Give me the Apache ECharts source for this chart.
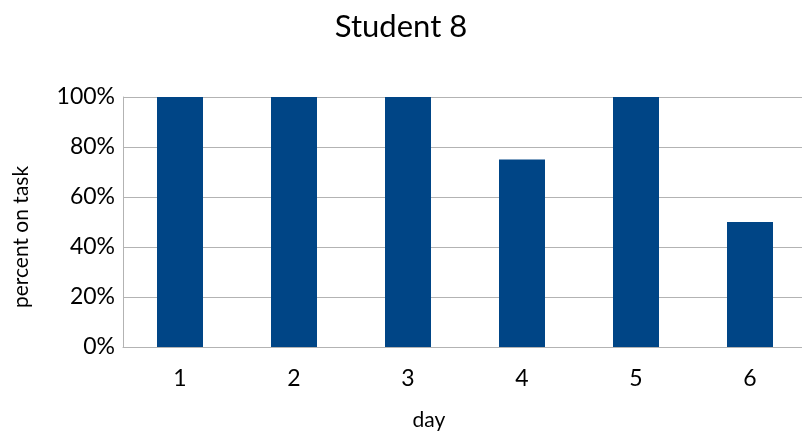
<!DOCTYPE html>
<html><head><meta charset="utf-8">
<script src="https://cdn.jsdelivr.net/npm/echarts@6/dist/echarts.min.js"></script>
<style>html,body{margin:0;padding:0;background:#fff}#c{width:802px;height:437px}</style>
</head><body><div id="c"></div>
<script>
const categories = ['1','2','3','4','5','6'];
const values = [100, 100, 100, 75, 100, 50];
const titleText = 'Student 8';
const xName = 'day';
const yName = 'percent on task';

const chart = echarts.init(document.getElementById('c'), null, {renderer:'canvas'});
const font = 'Lato, "Liberation Sans", sans-serif';
chart.setOption({
  animation:false,
  backgroundColor:'#fff',
  title:{text:titleText,left:'center',top:6,textStyle:{fontFamily:font,fontSize:31,fontWeight:'normal',color:'#000'}},
  grid:{left:123,top:97,width:684,height:250,containLabel:false,outerBoundsMode:'none'},
  xAxis:{type:'category',data:categories,
    axisLine:{show:true,lineStyle:{color:'#b3b3b3',width:1}},
    axisTick:{show:false},
    axisLabel:{fontFamily:font,fontSize:23,color:'#000',margin:20},
    splitLine:{show:false}},
  yAxis:{type:'value',min:0,max:100,interval:20,
    axisLine:{show:true,lineStyle:{color:'#b3b3b3',width:1}},
    axisTick:{show:false},
    axisLabel:{fontFamily:font,fontSize:23,color:'#000',margin:8,formatter:'{value}%'},
    splitLine:{show:true,lineStyle:{color:'#b3b3b3',width:1}}},
  graphic:[
    {type:'text',x:429,y:420,style:{text:xName,font:'21px '+font,fill:'#000',textAlign:'center',textVerticalAlign:'middle'}},
    {type:'text',rotation:Math.PI/2,x:21,y:237,style:{text:yName,font:'21px '+font,fill:'#000',textAlign:'center',textVerticalAlign:'middle'}}
  ],
  series:[{type:'bar',data:values,barWidth:46,itemStyle:{color:'#004586'}}]
});
</script></body></html>
